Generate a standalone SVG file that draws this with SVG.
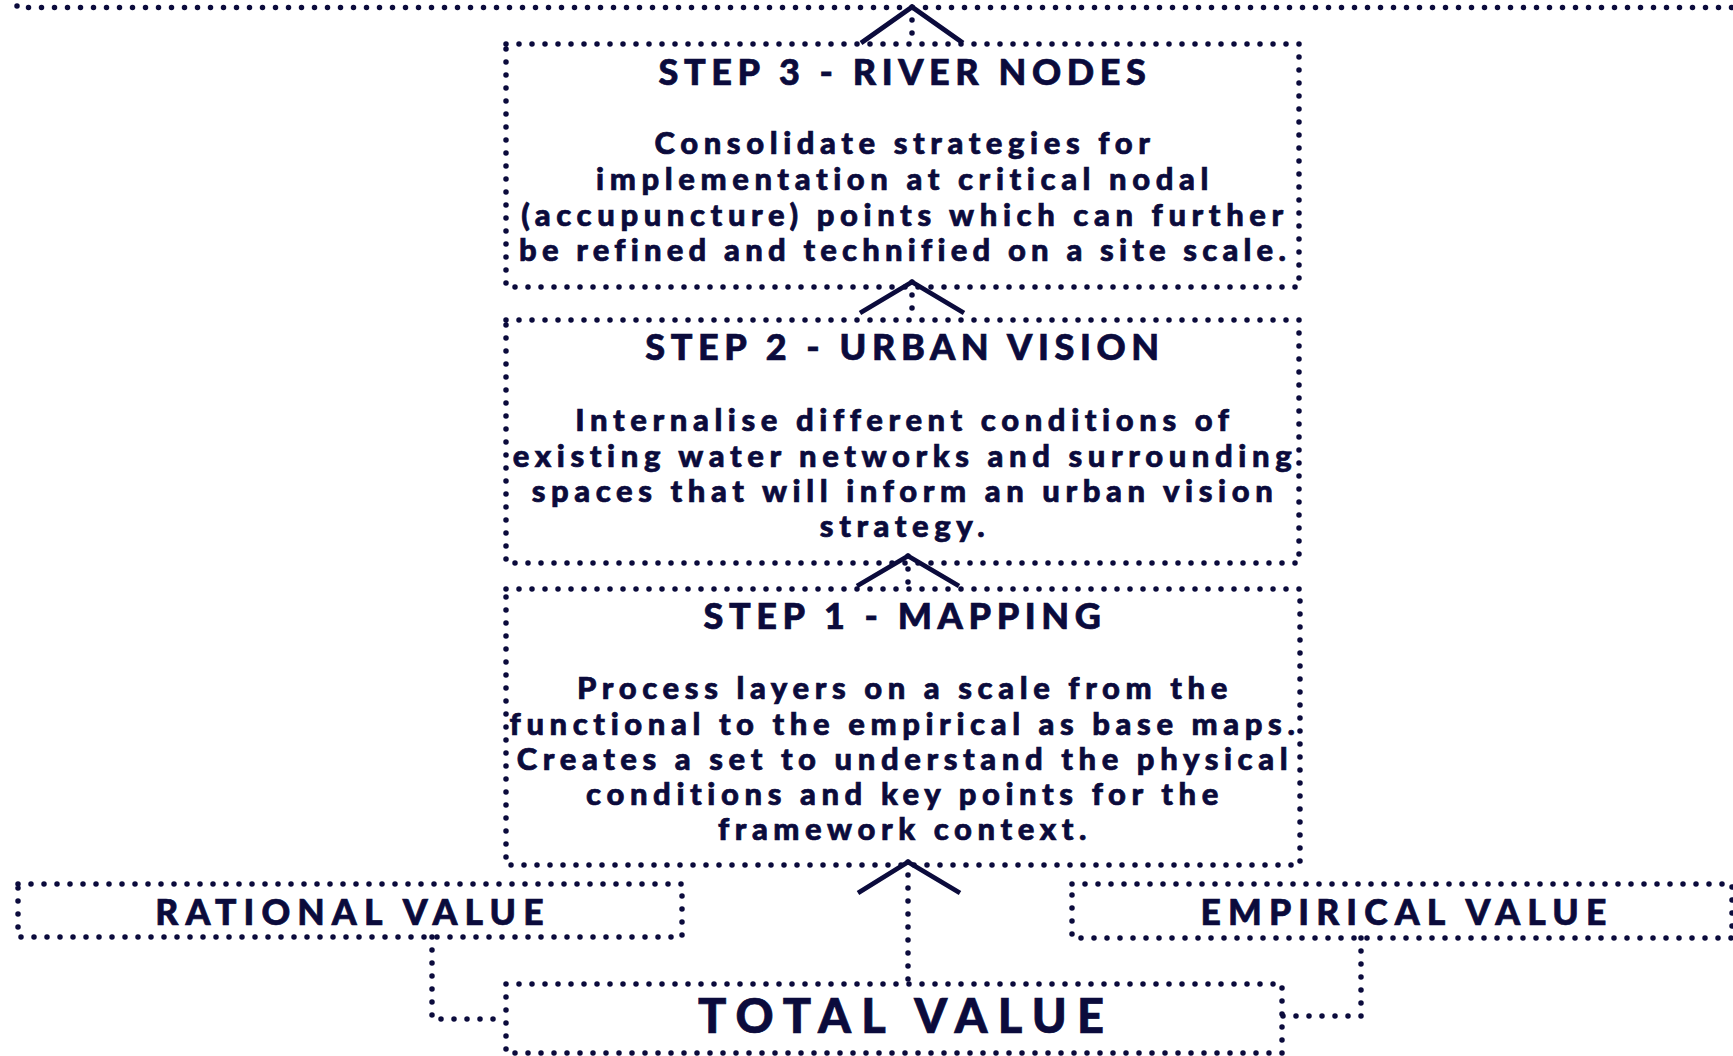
<svg xmlns="http://www.w3.org/2000/svg" width="1733" height="1056" viewBox="0 0 1733 1056">
<style>
.dot{fill:none;stroke:#0b0b3c;stroke-width:5.5;stroke-linecap:round;stroke-dasharray:0 13}
.chev{fill:none;stroke:#0b0b3c;stroke-width:4.8;stroke-linejoin:miter;stroke-linecap:butt}
text{font-family:Lato,"Noto Sans",sans-serif;font-weight:900;fill:#0b0b3c;stroke:#0b0b3c;stroke-width:0.7px;text-anchor:middle}
.title{font-size:36px;letter-spacing:5.6px}
.body{font-size:31px;letter-spacing:5.6px}
.tight{letter-spacing:5.2px}
.val{font-size:35.5px;letter-spacing:7.1px}
.total{font-size:47px;letter-spacing:10.2px}
</style>
<rect width="1733" height="1056" fill="#ffffff" stroke="none"/>
<g id="top-box">
<path class="dot" d="M17,-20 V7.5 H1745"/>
</g>
<g id="step3">
<rect class="dot" x="506" y="44" width="793" height="243"/>
<text class="title" x="905" y="85">STEP 3 - RIVER NODES</text>
<text class="body" x="905" y="154">Consolidate strategies for</text>
<text class="body" x="905" y="190">implementation at critical nodal</text>
<text class="body" x="905" y="226">(accupuncture) points which can further</text>
<text class="body tight" x="905" y="261">be refined and technified on a site scale.</text>
</g>
<g id="step2">
<rect class="dot" x="506" y="320" width="793" height="243"/>
<text class="title" x="905" y="360">STEP 2 - URBAN VISION</text>
<text class="body" x="905" y="431">Internalise different conditions of</text>
<text class="body" x="905" y="467">existing water networks and surrounding</text>
<text class="body" x="905" y="502">spaces that will inform an urban vision</text>
<text class="body" x="905" y="537">strategy.</text>
</g>
<g id="step1">
<rect class="dot" x="506" y="589" width="794" height="276"/>
<text class="title" x="905" y="629">STEP 1 - MAPPING</text>
<text class="body" x="905" y="699">Process layers on a scale from the</text>
<text class="body" x="905" y="735">functional to the empirical as base maps.</text>
<text class="body" x="905" y="770">Creates a set to understand the physical</text>
<text class="body" x="905" y="805">conditions and key points for the</text>
<text class="body" x="905" y="840">framework context.</text>
</g>
<g id="rational">
<rect class="dot" x="18" y="884" width="664" height="53"/>
<text class="val" x="353" y="925">RATIONAL VALUE</text>
</g>
<g id="empirical">
<rect class="dot" x="1072" y="884" width="660" height="54"/>
<text class="val" x="1407" y="925">EMPIRICAL VALUE</text>
</g>
<g id="total">
<rect class="dot" x="506" y="984" width="776" height="69"/>
<text class="total" x="906" y="1033">TOTAL VALUE</text>
</g>
<g id="connectors">
<path class="dot" d="M912,7 V44"/>
<path class="chev" d="M861,43 L912,7 L963,43"/>
<path class="dot" d="M912,282 V320"/>
<path class="chev" d="M860,313 L912,282 L964,313"/>
<path class="dot" d="M908,556 V589"/>
<path class="chev" d="M857,586 L908,556 L959,586"/>
<path class="dot" d="M908,862 V984"/>
<path class="chev" d="M858,893 L908,862 L960,893"/>
<path class="dot" d="M432,937 V1019 H506"/>
<path class="dot" d="M1361,938 V1016 H1282"/>
</g>
</svg>
